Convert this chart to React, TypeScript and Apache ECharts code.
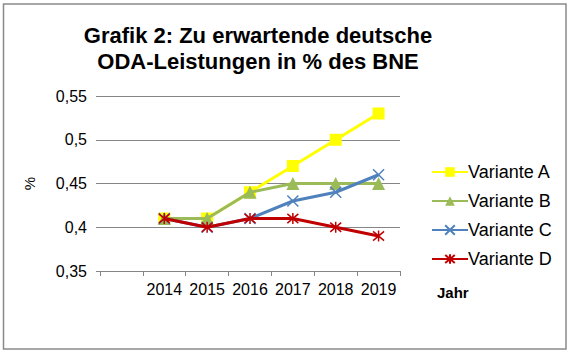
import React, { useEffect, useRef } from "react";
import * as echarts from "echarts";

const categories = ["", "2014", "2015", "2016", "2017", "2018", "2019"];
const varianteA = [null, 0.41, 0.41, 0.44, 0.47, 0.5, 0.53];
const varianteB = [null, 0.41, 0.41, 0.44, 0.45, 0.45, 0.45];
const varianteC = [null, 0.41, 0.4, 0.41, 0.43, 0.44, 0.46];
const varianteD = [null, 0.41, 0.4, 0.41, 0.41, 0.4, 0.39];
const seriesNames = ["Variante A", "Variante B", "Variante C", "Variante D"];
const titleLines = ["Grafik 2: Zu erwartende deutsche", "ODA-Leistungen in % des BNE"];
const yTicks = { min: 0.35, max: 0.55, interval: 0.05 };

const FONT = "Liberation Sans, Arial, sans-serif";

export default function App() {
  const ref = useRef<HTMLDivElement>(null);
  useEffect(() => {
    document.body.style.margin = "0";
    const chart = echarts.init(ref.current!, null, { renderer: "svg" });
    const colors = ["#FFFF00", "#9BBB59", "#4F81BD", "#C00000"];
    const symbols = [
      "rect",
      "triangle",
      "path://M0,0L10,10M10,0L0,10",
      "path://M0,0L10,10M10,0L0,10M5,-1L5,11",
    ];
    const datas = [varianteA, varianteB, varianteC, varianteD];
    chart.setOption({
      animation: false,
      backgroundColor: "#ffffff",
      textStyle: { fontFamily: FONT },
      grid: { left: 100, right: 170, top: 96, bottom: 82 },
      legend: {
        orient: "vertical",
        left: 426,
        top: 158,
        itemWidth: 36,
        itemHeight: 12,
        itemGap: 11,
        textStyle: { fontSize: 18, color: "#000", fontFamily: FONT, padding: [0, 0, 0, -5] },
        data: seriesNames,
      },
      xAxis: {
        type: "category",
        data: categories,
        boundaryGap: true,
        axisLine: { show: true, lineStyle: { color: "#868686", width: 1 } },
        axisTick: { show: true, length: 5, lineStyle: { color: "#868686" } },
        axisLabel: { fontSize: 16, color: "#000", margin: 10, fontFamily: FONT, interval: 0 },
      },
      yAxis: {
        type: "value",
        min: yTicks.min,
        max: yTicks.max,
        interval: yTicks.interval,
        name: "%",
        nameLocation: "middle",
        nameRotate: 90,
        nameGap: 63,
        nameTextStyle: { fontSize: 15, color: "#000", fontFamily: FONT },
        axisLine: { show: false },
        axisTick: { show: true, length: 4, lineStyle: { color: "#868686" } },
        splitLine: { show: true, lineStyle: { color: "#868686", width: 1 } },
        axisLabel: {
          fontSize: 16,
          color: "#000",
          margin: 13,
          fontFamily: FONT,
          formatter: (v: number) => String(+v.toFixed(2)).replace(".", ","),
        },
      },
      series: seriesNames.map((name, i) => ({
        name,
        type: "line",
        data: datas[i],
        symbol: symbols[i],
        symbolSize: i === 0 ? 12 : i === 1 ? 13 : 11,
        showSymbol: true,
        connectNulls: false,
        lineStyle: { color: colors[i], width: 3 },
        itemStyle: {
          color: colors[i],
          borderColor: colors[i],
          borderWidth: i >= 2 ? 1.5 : 0,
        },
        z: 2 + i,
      })),
      graphic: [
        {
          type: "rect",
          shape: { x: 3.5, y: 4, width: 562.5, height: 345 },
          style: { fill: "none", stroke: "#8a8a8a", lineWidth: 1.5 },
          silent: true,
        },
        {
          type: "text",
          x: 258,
          y: 22,
          style: {
            text: titleLines.join("\n"),
            fontSize: 22,
            fontWeight: "bold",
            fontFamily: FONT,
            fill: "#000",
            textAlign: "center",
            textVerticalAlign: "top",
            lineHeight: 26,
          },
        },
        {
          type: "text",
          x: 437,
          y: 285,
          style: {
            text: "Jahr",
            fontSize: 15,
            fontWeight: "bold",
            fontFamily: FONT,
            fill: "#000",
            textAlign: "left",
            textVerticalAlign: "top",
          },
        },
      ],
    });
    return () => chart.dispose();
  }, []);
  return <div ref={ref} style={{ width: 570, height: 353 }} />;
}
